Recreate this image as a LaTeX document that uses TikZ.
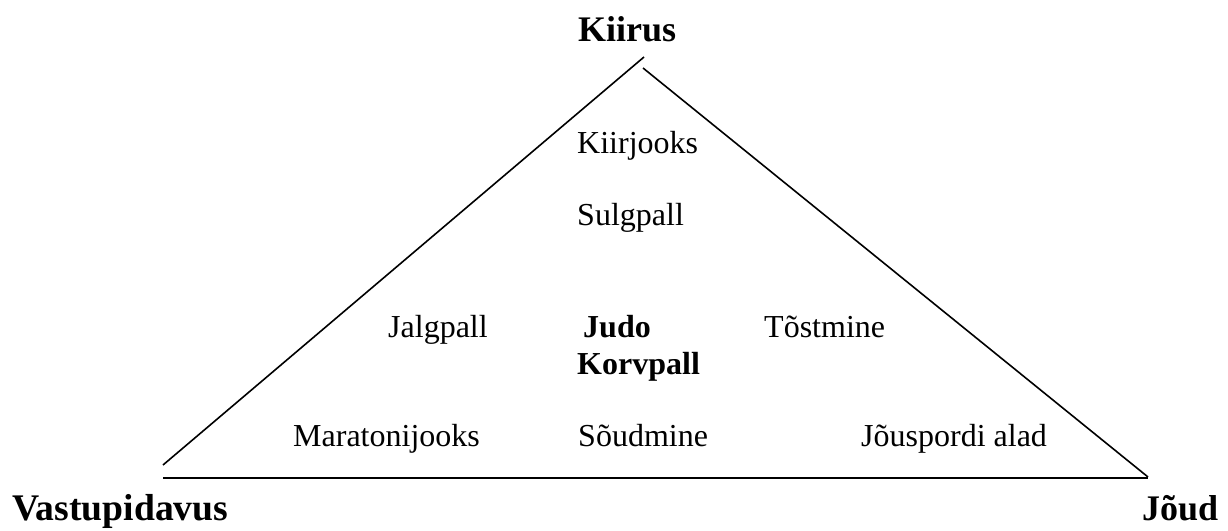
\documentclass[tikz,border=0pt]{standalone}
\usepackage{fontspec}
\setmainfont{Liberation Serif}
\begin{document}
\begin{tikzpicture}[x=1pt,y=-1pt,
  lbl/.style={anchor=base west,inner sep=0pt,font=\fontsize{32}{38}\selectfont},
  corner/.style={anchor=base west,inner sep=0pt,font=\fontsize{36}{42}\selectfont\bfseries},
  side/.style={line width=1.6pt,black}]
\useasboundingbox (0,0) rectangle (1228,530);
% line end points
\coordinate (lt) at (644,57);
\coordinate (lb) at (163,465);
\coordinate (rt) at (643,68);
\coordinate (rb) at (1148,477);
\coordinate (bl) at (163,478);
\coordinate (br) at (1148,478);
\draw[side] (lb) -- (lt);
\draw[side] (rt) -- (rb);
\draw[side] (bl) -- (br);
% corner labels
\node[corner] (kiirus) at (578,41) {Kiirus};
\node[corner,font=\fontsize{37.6}{44}\selectfont\bfseries] (vastu) at (12,520) {Vastupidavus};
\node[corner] (joud) at (1142,520) {Jõud};
% sports
\node[lbl] (kiirjooks) at (577,153) {Kiirjooks};
\node[lbl] (sulgpall) at (577,225) {Sulgpall};
\node[lbl] (jalgpall) at (388,337) {Jalgpall};
\node[lbl,font=\fontsize{32}{38}\selectfont\bfseries] (judo) at (583,337) {Judo};
\node[lbl,font=\fontsize{32}{38}\selectfont\bfseries] (korvpall) at (577,374) {Korvpall};
\node[lbl] (tostmine) at (764,337) {Tõstmine};
\node[lbl] (maraton) at (293,446) {Maratonijooks};
\node[lbl] (soudmine) at (578,446) {Sõudmine};
\node[lbl] (jouspordi) at (861,446) {Jõuspordi alad};
\end{tikzpicture}
\end{document}
